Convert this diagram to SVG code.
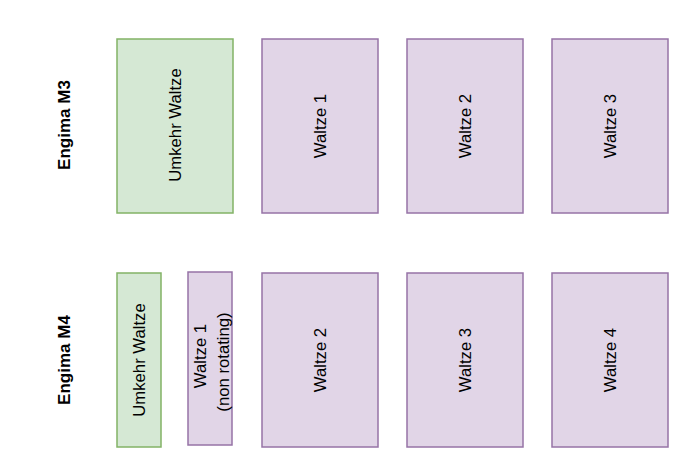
<svg xmlns="http://www.w3.org/2000/svg" width="697" height="466" viewBox="0 0 697 466">
<style>
.g{fill:#d5e8d4;stroke:#82b366;stroke-width:1.5}
.p{fill:#e1d5e7;stroke:#9673a6;stroke-width:1.5}
text{font-family:"Liberation Sans",Arial,sans-serif;font-size:16.7px;fill:#000;text-anchor:middle;dominant-baseline:central}
.t{font-weight:bold;font-size:17px}
</style>
<rect width="697" height="466" fill="#fff"/>
<g id="label-m3"><text class="t" transform="translate(64,125) rotate(-90)">Engima M3</text></g>
<g id="m3-umkehr"><rect class="g" x="117" y="39" width="116" height="174"/><text transform="translate(175,125) rotate(-90)">Umkehr Waltze</text></g>
<g id="m3-w1"><rect class="p" x="262" y="39" width="116" height="174"/><text transform="translate(320,126) rotate(-90)">Waltze 1</text></g>
<g id="m3-w2"><rect class="p" x="407" y="39" width="116" height="174"/><text transform="translate(465,126) rotate(-90)">Waltze 2</text></g>
<g id="m3-w3"><rect class="p" x="552" y="39" width="116" height="174"/><text transform="translate(610,126) rotate(-90)">Waltze 3</text></g>
<g id="label-m4"><text class="t" transform="translate(64,360) rotate(-90)">Engima M4</text></g>
<g id="m4-umkehr"><rect class="g" x="117" y="273" width="44" height="174"/><text transform="translate(139,360) rotate(-90)">Umkehr Waltze</text></g>
<g id="m4-w1"><rect class="p" x="188" y="272" width="44" height="173"/><text transform="translate(200,356) rotate(-90)">Waltze 1</text><text transform="translate(223,362) rotate(-90)">(non rotating)</text></g>
<g id="m4-w2"><rect class="p" x="262" y="273" width="116" height="174"/><text transform="translate(320,360) rotate(-90)">Waltze 2</text></g>
<g id="m4-w3"><rect class="p" x="407" y="273" width="116" height="174"/><text transform="translate(465,360) rotate(-90)">Waltze 3</text></g>
<g id="m4-w4"><rect class="p" x="552" y="273" width="116" height="174"/><text transform="translate(610,360) rotate(-90)">Waltze 4</text></g>
<g id="connectors"/>
</svg>
